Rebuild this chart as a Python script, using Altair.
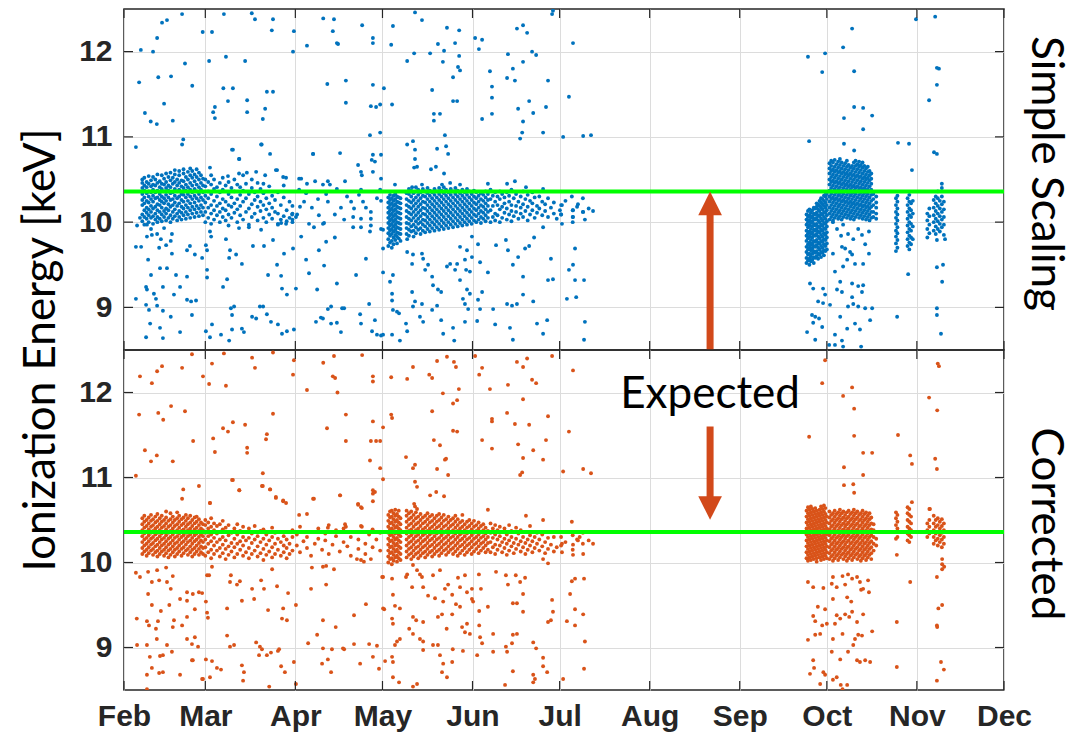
import altair as alt
import pandas as pd

# ---------------- axes / annotation values ----------------
MONTH_LABELS = ["Feb", "Mar", "Apr", "May", "Jun", "Jul", "Aug", "Sep", "Oct", "Nov", "Dec"]
MONTH_STARTS = [32, 60, 91, 121, 152, 182, 213, 244, 274, 305, 335]   # day of year (2017)
Y_TICKS = [9, 10, 11, 12]
X_DOMAIN = [32, 335]
Y_DOMAIN = [8.5, 12.5]
EXPECTED_KEV = 10.36
PANEL_TITLES = ["Simple Scaling", "Corrected"]
Y_TITLE = "Ionization Energy [keV]"
ARROW_DAY = 233.8
UP_ARROW = [8.5, 10.36]      # base, tip (top panel)
DOWN_ARROW = [11.6, 10.5]    # base, tip (bottom panel)
EXPECTED_TEXT = "Expected"
EXPECTED_TEXT_Y = 11.82

# ---------------- Simple Scaling (blue) ----------------
BLUE_DENSE = [
    (38.3, [10.01, 10.09, 10.2, 10.26, 10.33, 10.4, 10.46, 10.5]),
    (39.0, [9.97, 10.06, 10.14, 10.22, 10.29, 10.37, 10.43, 10.52]),
    (39.8, [10.04, 10.11, 10.17, 10.25, 10.34, 10.41, 10.47]),
    (40.5, [10.0, 10.08, 10.15, 10.23, 10.3, 10.36, 10.45, 10.54]),
    (41.3, [10.05, 10.12, 10.19, 10.27, 10.35, 10.42, 10.49]),
    (42.0, [9.98, 10.07, 10.16, 10.24, 10.31, 10.38, 10.44, 10.53]),
    (42.8, [10.03, 10.1, 10.18, 10.28, 10.35, 10.43, 10.5]),
    (43.5, [10.0, 10.06, 10.14, 10.21, 10.29, 10.37, 10.46, 10.56]),
    (44.3, [10.04, 10.12, 10.2, 10.26, 10.33, 10.41, 10.48]),
    (45.0, [10.01, 10.09, 10.17, 10.24, 10.3, 10.39, 10.45, 10.55]),
    (45.8, [10.06, 10.13, 10.22, 10.28, 10.36, 10.44, 10.51]),
    (46.5, [10.02, 10.1, 10.16, 10.25, 10.32, 10.4, 10.47, 10.57]),
    (47.3, [10.05, 10.14, 10.21, 10.29, 10.37, 10.43, 10.53]),
    (48.0, [10.0, 10.08, 10.18, 10.26, 10.34, 10.41, 10.49, 10.58]),
    (48.8, [10.04, 10.12, 10.2, 10.27, 10.35, 10.45, 10.52]),
    (49.5, [10.07, 10.15, 10.23, 10.31, 10.39, 10.47, 10.56, 10.61]),
    (50.3, [10.02, 10.1, 10.19, 10.28, 10.36, 10.43, 10.5]),
    (51.0, [10.06, 10.13, 10.22, 10.3, 10.38, 10.46, 10.55, 10.6]),
    (51.8, [10.03, 10.11, 10.18, 10.26, 10.33, 10.42, 10.49]),
    (52.5, [10.08, 10.16, 10.24, 10.32, 10.4, 10.48, 10.57, 10.62]),
    (53.3, [10.04, 10.12, 10.2, 10.29, 10.37, 10.44, 10.53]),
    (54.0, [10.09, 10.17, 10.25, 10.33, 10.41, 10.5, 10.59]),
    (54.8, [10.05, 10.14, 10.22, 10.3, 10.38, 10.46, 10.55, 10.63]),
    (55.5, [10.1, 10.18, 10.27, 10.35, 10.43, 10.52, 10.6]),
    (56.3, [10.06, 10.15, 10.23, 10.31, 10.39, 10.48, 10.56]),
    (57.0, [10.11, 10.19, 10.28, 10.36, 10.44, 10.53, 10.62]),
    (57.8, [10.07, 10.16, 10.25, 10.33, 10.41, 10.5, 10.58]),
    (58.5, [10.12, 10.2, 10.29, 10.38, 10.46, 10.55]),
    (59.2, [10.08, 10.17, 10.26, 10.35, 10.43, 10.51]),
    (60, [10.0, 10.12, 10.23, 10.31, 10.42, 10.5]),
    (61, [10.05, 10.17, 10.28, 10.36, 10.47]),
    (62, [9.98, 10.1, 10.2, 10.33, 10.44, 10.55]),
    (63, [10.03, 10.14, 10.25, 10.39, 10.5]),
    (64, [10.08, 10.19, 10.3, 10.41]),
    (65, [10.0, 10.12, 10.22, 10.35, 10.46]),
    (66, [10.06, 10.16, 10.27, 10.38, 10.52]),
    (67, [10.02, 10.14, 10.24, 10.43]),
    (68, [9.96, 10.09, 10.2, 10.33, 10.47]),
    (69, [10.05, 10.18, 10.29, 10.4]),
    (70, [10.11, 10.22, 10.36, 10.5]),
    (71, [10.0, 10.15, 10.27, 10.44]),
    (72, [10.08, 10.19, 10.32, 10.41]),
    (73, [10.03, 10.24, 10.37, 10.55]),
    (74, [10.12, 10.28, 10.45]),
    (75, [9.97, 10.16, 10.33]),
    (76, [10.06, 10.21, 10.4, 10.5]),
    (77, [10.1, 10.26, 10.35]),
    (78, [10.02, 10.18, 10.3, 10.46]),
    (79, [10.13, 10.24, 10.39]),
    (80, [10.05, 10.2, 10.34, 10.45]),
    (81, [10.0, 10.15, 10.28]),
    (82, [10.09, 10.22, 10.42]),
    (83, [10.04, 10.17, 10.31]),
    (84, [10.12, 10.26]),
    (85, [9.98, 10.1, 10.35]),
    (86, [10.03, 10.2]),
    (87, [10.07, 10.29, 10.43]),
    (88, [10.01, 10.14]),
    (89, [10.05, 10.24]),
    (90, [10.0, 10.03, 10.1, 10.19]),
    (123.0, [9.72, 9.8, 9.87, 9.93, 9.99, 10.05, 10.11, 10.17, 10.23, 10.29]),
    (123.6, [9.76, 9.84, 9.9, 9.96, 10.02, 10.08, 10.14, 10.2, 10.26, 10.32]),
    (124.2, [9.7, 9.78, 9.86, 9.92, 9.98, 10.04, 10.1, 10.16, 10.22, 10.28]),
    (124.8, [9.74, 9.82, 9.89, 9.95, 10.01, 10.07, 10.13, 10.19, 10.25, 10.31]),
    (125.4, [9.79, 9.85, 9.91, 9.97, 10.03, 10.09, 10.15, 10.21, 10.27, 10.33]),
    (126.0, [9.75, 9.83, 9.88, 9.94, 10.0, 10.06, 10.12, 10.18, 10.24, 10.3]),
    (126.6, [9.81, 9.87, 9.93, 9.99, 10.05, 10.11, 10.17, 10.23, 10.29]),
    (127.2, [9.78, 9.86, 9.92, 9.98, 10.04, 10.1, 10.16, 10.22, 10.28]),
    (129.3, [9.86, 9.93, 9.99, 10.06, 10.13, 10.2, 10.27, 10.34]),
    (130.1, [9.84, 9.91, 9.98, 10.04, 10.11, 10.18, 10.25, 10.33, 10.39]),
    (130.9, [9.89, 9.95, 10.02, 10.09, 10.16, 10.23, 10.3, 10.37]),
    (131.7, [9.83, 9.9, 9.97, 10.05, 10.12, 10.19, 10.26, 10.34]),
    (132.5, [9.87, 9.94, 10.01, 10.08, 10.15, 10.22, 10.29, 10.36, 10.41]),
    (133.3, [9.91, 9.98, 10.04, 10.11, 10.18, 10.25, 10.32, 10.38]),
    (134.1, [9.86, 9.93, 10.0, 10.07, 10.14, 10.21, 10.28, 10.35]),
    (134.9, [9.9, 9.97, 10.03, 10.1, 10.17, 10.24, 10.31, 10.39]),
    (135.7, [9.88, 9.95, 10.02, 10.09, 10.16, 10.23, 10.3, 10.36]),
    (136.5, [9.92, 9.99, 10.06, 10.13, 10.2, 10.27, 10.34, 10.4]),
    (137.3, [9.89, 9.96, 10.03, 10.1, 10.17, 10.24, 10.31, 10.37]),
    (138.1, [9.93, 10.0, 10.07, 10.14, 10.21, 10.28, 10.35]),
    (138.9, [9.9, 9.97, 10.04, 10.11, 10.18, 10.25, 10.32, 10.39]),
    (139.7, [9.94, 10.01, 10.08, 10.15, 10.22, 10.29, 10.36]),
    (140.5, [9.91, 9.98, 10.05, 10.12, 10.19, 10.26, 10.33, 10.4]),
    (141.3, [9.95, 10.02, 10.09, 10.16, 10.23, 10.3, 10.37]),
    (142.1, [9.92, 9.99, 10.06, 10.13, 10.2, 10.27, 10.34, 10.41]),
    (142.9, [9.96, 10.03, 10.1, 10.17, 10.24, 10.31, 10.38]),
    (143.7, [9.93, 10.0, 10.07, 10.14, 10.21, 10.28, 10.35]),
    (144.5, [9.97, 10.04, 10.11, 10.18, 10.25, 10.32, 10.39]),
    (145.3, [9.94, 10.01, 10.08, 10.15, 10.22, 10.29, 10.36]),
    (146.1, [9.98, 10.05, 10.12, 10.19, 10.26, 10.33, 10.4]),
    (146.9, [9.95, 10.02, 10.09, 10.16, 10.23, 10.3, 10.37]),
    (147.7, [9.99, 10.06, 10.13, 10.2, 10.27, 10.34]),
    (148.5, [9.96, 10.03, 10.1, 10.17, 10.24, 10.31, 10.38]),
    (149.3, [10.0, 10.07, 10.14, 10.21, 10.28, 10.35]),
    (150.1, [9.97, 10.04, 10.11, 10.18, 10.25, 10.32, 10.39]),
    (150.9, [10.01, 10.08, 10.15, 10.22, 10.29, 10.36]),
    (151.7, [9.98, 10.05, 10.12, 10.19, 10.26, 10.33]),
    (152.5, [10.02, 10.09, 10.16, 10.23, 10.3, 10.37]),
    (153.3, [10.0, 10.07, 10.14, 10.21, 10.28, 10.35]),
    (154.1, [10.03, 10.1, 10.17, 10.24, 10.31]),
    (154.9, [9.99, 10.06, 10.13, 10.2, 10.27, 10.34]),
    (155.7, [10.04, 10.11, 10.18, 10.25, 10.32]),
    (156.5, [10.01, 10.08, 10.15, 10.22, 10.29, 10.36]),
    (157.3, [10.05, 10.12, 10.19, 10.26, 10.33]),
    (158.2, [10.0, 10.14, 10.27, 10.38]), (159.0, [10.06, 10.19, 10.31]),
    (159.8, [10.02, 10.1, 10.24, 10.35]), (160.6, [10.08, 10.2, 10.3]),
    (161.4, [10.0, 10.15, 10.27, 10.36]), (162.2, [10.05, 10.18, 10.33]),
    (163.0, [10.11, 10.22, 10.29]), (163.8, [10.03, 10.16, 10.35]),
    (164.6, [10.09, 10.24, 10.31]), (165.4, [10.01, 10.13, 10.2, 10.38]),
    (166.2, [10.07, 10.28]), (167.0, [10.12, 10.19, 10.33]),
    (167.8, [10.04, 10.24]), (168.6, [10.1, 10.17, 10.3]),
    (169.4, [10.06, 10.21, 10.36]), (170.2, [10.13, 10.27]),
    (171.0, [10.02, 10.18, 10.32]), (171.8, [10.09, 10.25]),
    (172.6, [10.14, 10.22, 10.35]), (173.4, [10.05, 10.29]),
    (174.2, [10.11, 10.19]), (175.0, [10.16, 10.3]), (176.0, [10.08, 10.24]),
    (177.0, [10.13, 10.21]), (178.0, [10.06, 10.28]), (179.0, [10.17]),
    (180.0, [10.1, 10.23]), (181.0, [10.04]), (182.5, [10.09, 10.2]),
    (184.0, [10.25]), (186.5, [10.0, 10.06, 10.14]), (188.0, [10.18]),
    (190.0, [10.12, 10.28]), (192.0, [10.16]),
    (267.0, [9.52, 9.58, 9.65, 9.71, 9.78, 9.84, 9.9, 9.97, 10.03, 10.09]),
    (267.5, [9.55, 9.62, 9.68, 9.74, 9.81, 9.87, 9.94, 10.0, 10.06, 10.13]),
    (268.0, [9.5, 9.57, 9.63, 9.7, 9.76, 9.83, 9.89, 9.96, 10.02, 10.08, 10.15]),
    (268.5, [9.54, 9.6, 9.67, 9.73, 9.79, 9.86, 9.92, 9.99, 10.05, 10.11]),
    (269.0, [9.56, 9.63, 9.69, 9.75, 9.82, 9.88, 9.95, 10.01, 10.07, 10.14]),
    (269.5, [9.52, 9.59, 9.66, 9.72, 9.78, 9.85, 9.91, 9.98, 10.04, 10.1, 10.17]),
    (270.0, [9.58, 9.64, 9.71, 9.77, 9.84, 9.9, 9.96, 10.03, 10.09, 10.16]),
    (270.5, [9.6, 9.66, 9.73, 9.79, 9.86, 9.92, 9.98, 10.05, 10.11, 10.18, 10.22]),
    (271.0, [9.57, 9.63, 9.7, 9.76, 9.83, 9.89, 9.95, 10.02, 10.08, 10.15, 10.21]),
    (271.5, [9.62, 9.68, 9.75, 9.81, 9.88, 9.94, 10.0, 10.07, 10.13, 10.19, 10.25]),
    (272.0, [9.59, 9.65, 9.72, 9.78, 9.85, 9.91, 9.97, 10.04, 10.1, 10.17, 10.23, 10.28]),
    (272.5, [9.64, 9.7, 9.77, 9.83, 9.9, 9.96, 10.02, 10.09, 10.15, 10.21, 10.27]),
    (273.0, [9.61, 9.67, 9.74, 9.8, 9.87, 9.93, 9.99, 10.06, 10.12, 10.19, 10.25, 10.31]),
    (273.5, [9.66, 9.72, 9.79, 9.85, 9.92, 9.98, 10.04, 10.11, 10.17, 10.23, 10.3, 10.35]),
    (274.0, [9.68, 9.75, 9.82, 9.88, 9.95, 10.01, 10.08, 10.14, 10.2, 10.27, 10.33]),
    (274.9, [10.03, 10.1, 10.17, 10.24, 10.3, 10.37, 10.44, 10.5, 10.57, 10.63, 10.69]),
    (275.5, [10.06, 10.13, 10.2, 10.27, 10.33, 10.4, 10.47, 10.53, 10.6, 10.66, 10.72]),
    (276.1, [10.02, 10.09, 10.16, 10.23, 10.29, 10.36, 10.43, 10.49, 10.56, 10.62, 10.7]),
    (276.7, [10.05, 10.12, 10.19, 10.26, 10.32, 10.39, 10.46, 10.52, 10.59, 10.65, 10.73]),
    (277.3, [10.08, 10.15, 10.22, 10.28, 10.35, 10.42, 10.48, 10.55, 10.61, 10.68]),
    (277.9, [10.04, 10.11, 10.18, 10.25, 10.31, 10.38, 10.45, 10.51, 10.58, 10.64, 10.71]),
    (278.5, [10.07, 10.14, 10.21, 10.27, 10.34, 10.41, 10.47, 10.54, 10.6, 10.67, 10.74]),
    (279.1, [10.03, 10.1, 10.17, 10.24, 10.3, 10.37, 10.44, 10.5, 10.57, 10.63, 10.7]),
    (279.7, [10.06, 10.13, 10.2, 10.26, 10.33, 10.4, 10.46, 10.53, 10.59, 10.66]),
    (280.3, [10.09, 10.16, 10.23, 10.29, 10.36, 10.43, 10.49, 10.56, 10.62, 10.69]),
    (280.9, [10.05, 10.12, 10.19, 10.25, 10.32, 10.39, 10.45, 10.52, 10.58, 10.65, 10.72]),
    (281.5, [10.08, 10.15, 10.22, 10.28, 10.35, 10.42, 10.48, 10.55, 10.61, 10.67]),
    (282.1, [10.04, 10.11, 10.18, 10.24, 10.31, 10.38, 10.44, 10.51, 10.57, 10.64]),
    (282.7, [10.07, 10.14, 10.21, 10.27, 10.34, 10.41, 10.47, 10.54, 10.6, 10.66]),
    (283.3, [10.03, 10.1, 10.17, 10.23, 10.3, 10.37, 10.43, 10.5, 10.56, 10.63, 10.7]),
    (283.9, [10.06, 10.13, 10.2, 10.26, 10.33, 10.4, 10.46, 10.53, 10.59, 10.66, 10.72]),
    (284.5, [10.09, 10.16, 10.22, 10.29, 10.36, 10.42, 10.49, 10.55, 10.62, 10.68]),
    (285.1, [10.05, 10.12, 10.19, 10.25, 10.32, 10.39, 10.45, 10.52, 10.58, 10.65, 10.71]),
    (285.7, [10.08, 10.15, 10.21, 10.28, 10.35, 10.41, 10.48, 10.54, 10.61, 10.67]),
    (286.3, [10.04, 10.11, 10.18, 10.24, 10.31, 10.38, 10.44, 10.51, 10.57, 10.64, 10.7]),
    (286.9, [10.07, 10.14, 10.2, 10.27, 10.34, 10.4, 10.47, 10.53, 10.6, 10.66]),
    (287.5, [10.03, 10.1, 10.17, 10.23, 10.3, 10.37, 10.43, 10.5, 10.56, 10.63]),
    (288.1, [10.06, 10.13, 10.19, 10.26, 10.33, 10.39, 10.46, 10.52, 10.59, 10.65]),
    (288.7, [10.02, 10.09, 10.16, 10.22, 10.29, 10.36, 10.42, 10.49, 10.55, 10.6]),
    (289.3, [10.05, 10.12, 10.18, 10.25, 10.32, 10.38, 10.45, 10.51, 10.57]),
    (290.0, [10.06, 10.12, 10.2, 10.27, 10.33]),
    (291.0, [10.04, 10.1, 10.17, 10.23, 10.3]),
    (297.8, [9.66, 9.75, 9.83, 9.9, 9.98, 10.05, 10.12, 10.2, 10.28]),
    (298.3, [9.7, 9.79, 9.87, 9.94, 10.02, 10.09, 10.16, 10.24, 10.31]),
    (301.8, [9.72, 9.8, 9.88, 9.96, 10.04, 10.12, 10.2, 10.28]),
    (302.4, [9.68, 9.76, 9.84, 9.92, 10.0, 10.08, 10.16, 10.24, 10.32]),
    (303.0, [9.74, 9.82, 9.9, 9.98, 10.06, 10.14, 10.22]),
    (303.6, [9.8, 9.95, 10.1, 10.25]),
    (308.6, [9.82, 9.92, 10.02, 10.1]),
    (309.3, [9.87, 9.97, 10.07, 10.16]),
    (310.8, [9.9, 10.0, 10.08, 10.17, 10.26]),
    (311.5, [9.86, 9.95, 10.04, 10.13, 10.22, 10.3]),
    (312.2, [9.92, 10.01, 10.1, 10.19, 10.28, 10.36]),
    (312.9, [9.89, 9.98, 10.07, 10.16, 10.25]),
    (313.6, [9.94, 10.03, 10.12, 10.21, 10.3, 10.4, 10.45]),
    (314.3, [9.85, 9.97, 10.06, 10.15, 10.24]),
]

BLUE_SCATTER = [
    (52.0, 12.44), (46.8, 12.37), (45.1, 12.34), (37.8, 12.02), (42.0, 12.0), (43.4, 12.16), (53.0, 11.86),
    (37.2, 11.64), (43.8, 11.7), (48.2, 11.71), (55.5, 11.6), (39.2, 11.28), (45.8, 11.39), (41.2, 11.18),
    (43.3, 11.15), (48.8, 11.19), (36.1, 10.88), (52.4, 10.97), (52.0, 10.91), (59.1, 12.23), (62.3, 12.23),
    (66.4, 12.44), (76.0, 12.45), (77.1, 12.38), (83.3, 12.38), (82.9, 12.25), (61.3, 11.89), (67.1, 11.94),
    (73.7, 11.89), (66.2, 11.57), (69.5, 11.57), (67.8, 11.42), (63.3, 11.35), (62.7, 11.29), (63.3, 11.22),
    (74.4, 11.43), (74.4, 11.29), (81.2, 11.53), (83.3, 11.53), (80.6, 11.33), (79.8, 11.21), (69.5, 10.85),
    (71.7, 10.74), (79.4, 10.91), (82.3, 10.8), (61.6, 10.64), (84.7, 10.61), (90.5, 12.24), (90.2, 12.0),
    (95.0, 12.07), (100.6, 12.39), (104.3, 12.38), (103.9, 12.24), (105.3, 12.1), (105.7, 12.09), (114.0, 12.31),
    (117.7, 12.16), (117.7, 12.1), (124.0, 12.08), (124.6, 12.3), (102.0, 11.62), (108.4, 11.66), (117.7, 11.61),
    (121.5, 11.57), (108.4, 11.4), (117.0, 11.36), (118.8, 11.35), (120.2, 11.38), (124.3, 11.38), (116.7, 11.02),
    (120.2, 11.05), (106.4, 10.81), (97.1, 10.8), (112.6, 10.67), (113.9, 10.55), (117.7, 10.79), (117.3, 10.73),
    (93.0, 10.51),
    (132.2, 12.46), (134.6, 12.37), (143.2, 12.28), (147.4, 12.25), (131.9, 11.98), (137.4, 11.98), (140.1, 12.09),
    (142.2, 12.01), (146.0, 12.1), (147.4, 11.95), (129.5, 11.89), (141.8, 11.88), (147.0, 11.82), (147.7, 11.78),
    (145.3, 11.7), (138.1, 11.55), (145.3, 11.42), (146.7, 11.42), (138.7, 11.27), (140.8, 11.27), (138.7, 11.19),
    (142.5, 11.02), (129.5, 10.91), (131.5, 10.95), (132.2, 10.85), (132.2, 10.74), (139.8, 10.86), (142.9, 10.89),
    (143.6, 10.8), (131.9, 10.64), (132.9, 10.65), (137.7, 10.62), (139.4, 10.65), (142.2, 10.57), (152.9, 12.16),
    (155.3, 12.14), (154.2, 12.03), (158.0, 11.77), (158.7, 11.59), (158.7, 11.46), (158.7, 11.27), (155.3, 11.21),
    (163.9, 11.69), (164.2, 11.97), (165.9, 11.8), (166.6, 11.66), (167.3, 12.27), (169.4, 12.31), (170.8, 12.22),
    (169.4, 11.88), (172.5, 12.0), (173.9, 11.96), (171.5, 11.42), (172.9, 11.28), (167.7, 11.33), (169.4, 11.18),
    (169.1, 11.05), (168.4, 10.98), (176.3, 11.05), (177.3, 11.35), (178.0, 11.66), (179.4, 12.44), (179.7, 12.48),
    (186.6, 12.1), (185.2, 11.47), (183.2, 11.0), (190.1, 11.01), (192.8, 11.02),
    (125.3, 10.44), (131.2, 10.41), (134.6, 10.44), (141.5, 10.44), (144.3, 10.46), (147.7, 10.44), (157.3, 10.45),
    (163.9, 10.45), (166.6, 10.48), (170.4, 10.41), (176.3, 10.39),
    (267.5, 11.94), (273.4, 11.98), (272.4, 11.76), (282.7, 12.27), (279.6, 12.05), (283.4, 11.77), (283.4, 11.35),
    (286.5, 11.34), (279.9, 11.22), (289.6, 11.25), (286.5, 11.09), (267.9, 10.95), (279.9, 10.92), (283.4, 10.84),
    (298.5, 10.93), (302.3, 10.92), (303.3, 10.61), (304.7, 12.38), (311.3, 12.41), (311.9, 11.81), (312.6, 11.8),
    (311.9, 11.61), (309.2, 11.43), (310.9, 10.82), (311.9, 10.8),
    (36.5, 9.96), (37.5, 10.05), (39.9, 9.97), (41.3, 9.92), (45.8, 9.93), (36.1, 9.71), (37.9, 9.71), (39.9, 9.83),
    (41.6, 9.85), (43.4, 9.86), (44.7, 9.8), (46.5, 9.73), (48.1, 9.78), (44.1, 9.7), (48.5, 9.86), (48.5, 9.63),
    (40.3, 9.56), (44.4, 9.46), (46.8, 9.46), (41.3, 9.38), (49.9, 9.38), (36.1, 9.1), (39.6, 9.24), (39.9, 9.21),
    (42.3, 9.16), (43.0, 9.1), (45.4, 9.24), (49.2, 9.15), (51.3, 9.24), (53.7, 9.36), (53.7, 9.09), (55.1, 9.07),
    (56.8, 9.08), (39.6, 9.03), (40.6, 8.97), (43.4, 9.02), (45.4, 8.96), (48.1, 8.89), (55.4, 8.91), (41.0, 8.81),
    (44.4, 8.76), (45.4, 8.64), (39.6, 8.65), (51.3, 8.71), (60.2, 8.72), (62.3, 8.8), (61.6, 8.65), (65.4, 8.68),
    (68.2, 8.61), (69.2, 8.74), (72.6, 8.75), (73.3, 8.71), (76.1, 8.89), (77.5, 8.87), (79.9, 9.01), (78.8, 9.01),
    (81.2, 8.92), (82.6, 8.83), (85.0, 8.8), (86.4, 8.69), (88.1, 8.72), (60.6, 9.44), (60.6, 9.35), (58.9, 9.58),
    (56.4, 9.62), (53.7, 9.67), (54.7, 9.72), (60.2, 9.73), (60.6, 9.67), (62.0, 9.83), (61.6, 9.89), (67.1, 9.8),
    (68.5, 9.67), (68.2, 9.58), (70.6, 9.62), (66.1, 9.24), (67.5, 9.33), (68.8, 8.99), (69.9, 9.01), (69.2, 8.91),
    (72.6, 9.51), (71.6, 9.93), (75.0, 9.94), (76.4, 9.72), (80.2, 9.72), (79.2, 9.91), (81.6, 9.38), (83.3, 9.79),
    (84.7, 9.5), (86.1, 9.37), (86.4, 9.22), (87.1, 9.63), (88.1, 9.15), (86.1, 9.99), (85.0, 9.97), (87.8, 9.98),
    (90.2, 9.69), (91.2, 9.22), (90.5, 8.74), (93.0, 9.83), (94.7, 9.56), (95.7, 9.4), (97.4, 9.94), (99.1, 9.67),
    (100.9, 9.49), (100.5, 9.98), (101.6, 9.77), (98.5, 9.21), (100.5, 8.87), (102.2, 8.98), (103.3, 9.01),
    (103.3, 8.81), (104.6, 9.82), (105.3, 9.28), (107.8, 8.99), (110.9, 9.94), (111.9, 9.38), (113.6, 9.94),
    (116.7, 9.89), (115.3, 9.57), (116.4, 9.04), (117.0, 9.96), (120.5, 9.92), (113.3, 8.92), (113.6, 8.81),
    (117.4, 8.72), (118.4, 8.85), (119.1, 8.68), (120.5, 8.67), (98.1, 8.83), (99.8, 8.88), (105.3, 8.82),
    (106.7, 8.71), (107.1, 8.99),
    (69.2, 10.85), (71.6, 10.74), (67.8, 10.54), (71.6, 10.57), (74.3, 10.58), (77.5, 10.59), (79.2, 10.91),
    (80.6, 10.55), (84.3, 10.61), (86.8, 10.53), (87.8, 10.52), (92.3, 10.51), (95.0, 10.45), (97.8, 10.48),
    (97.1, 10.8), (100.5, 10.44), (102.2, 10.48), (108.1, 10.48), (113.6, 10.59), (118.4, 10.71), (117.7, 10.59),
    (120.5, 10.79), (120.5, 10.51), (92.3, 10.38), (94.7, 10.34), (92.6, 10.18), (94.0, 10.24), (96.7, 10.17),
    (98.8, 10.27), (99.1, 10.08), (101.6, 10.33), (102.2, 10.24), (102.9, 10.44), (105.3, 10.39), (106.7, 10.17),
    (104.6, 10.09), (108.8, 10.3), (110.2, 10.24), (111.2, 10.16), (110.9, 10.06), (112.9, 10.32), (113.6, 10.38),
    (114.3, 10.24), (115.3, 10.17), (117.0, 10.12), (119.1, 10.28), (120.5, 10.25), (120.2, 10.38), (117.0, 10.04),
    (113.6, 10.04), (107.8, 10.03), (100.9, 9.99), (95.7, 9.98), (91.2, 10.06), (89.9, 10.09), (91.6, 10.09),
    (121.2, 9.91), (121.2, 9.69), (121.2, 9.41), (123.6, 9.3), (124.6, 9.38), (124.3, 9.16), (124.3, 9.08),
    (124.6, 8.97), (126.0, 8.95), (126.7, 8.93), (124.3, 8.68), (121.2, 8.68), (127.0, 8.61), (129.5, 9.8),
    (129.5, 9.65), (131.5, 9.62), (131.2, 9.51), (134.6, 9.63), (135.0, 9.57), (136.7, 9.5), (135.7, 9.44),
    (138.1, 9.36), (138.4, 9.26), (140.1, 9.21), (141.2, 9.18), (143.2, 9.48), (144.3, 9.51), (146.7, 9.51),
    (147.7, 9.71), (149.4, 9.56), (150.1, 9.67), (146.0, 9.44), (147.7, 9.32), (149.8, 9.44), (151.1, 9.42),
    (151.8, 9.59), (150.1, 9.21), (151.1, 9.16), (148.7, 9.1), (149.4, 9.04), (150.5, 8.98), (131.2, 9.18),
    (132.2, 9.07), (131.5, 9.01), (134.6, 9.04), (133.9, 8.89), (135.0, 8.83), (129.1, 8.81), (129.5, 8.72),
    (138.1, 8.97), (139.8, 9.02), (141.2, 8.85), (141.9, 8.69), (145.3, 8.76), (145.7, 8.61), (149.4, 8.83),
    (153.6, 8.84), (154.6, 8.98), (153.9, 9.09), (155.3, 9.18), (154.6, 9.53), (157.3, 9.41), (151.8, 9.83),
    (153.9, 9.74), (160.1, 9.73), (164.2, 9.67), (163.5, 9.79), (165.9, 9.5), (167.7, 9.59), (169.4, 9.36),
    (170.1, 9.69), (171.5, 9.72), (173.2, 9.82), (169.4, 9.15), (167.3, 9.04), (165.6, 9.02), (163.9, 9.04),
    (159.1, 8.98), (159.8, 8.8), (164.9, 8.76), (165.9, 8.62), (172.9, 9.07), (174.2, 8.81), (176.3, 8.69),
    (177.7, 8.85), (178.0, 9.32), (179.7, 9.33), (179.0, 9.57), (176.3, 9.94), (182.5, 10.09), (182.8, 9.98),
    (186.2, 10.3), (186.6, 10.14), (186.6, 10.06), (187.3, 9.69), (186.6, 9.5), (185.2, 9.44), (187.3, 9.32),
    (187.7, 9.12), (184.5, 9.1), (190.4, 9.32), (190.7, 8.83), (190.4, 8.62), (188.3, 10.21), (190.1, 10.12),
    (190.7, 10.03), (193.5, 10.13), (182.8, 10.2), (182.1, 10.14),
    (276.1, 10.0), (277.5, 9.92), (278.9, 9.84), (279.6, 9.97), (281.3, 9.86), (283.1, 9.8), (284.8, 9.92),
    (286.1, 9.85), (287.2, 9.74), (288.5, 9.89), (276.1, 9.63), (279.2, 9.71), (280.3, 9.69), (282.0, 9.65),
    (282.7, 9.62), (283.7, 9.51), (281.0, 9.56), (286.5, 9.51), (288.5, 9.63), (276.8, 9.42), (279.6, 9.48),
    (278.6, 9.3), (277.5, 9.21), (279.2, 9.18), (282.7, 9.28), (284.8, 9.25), (286.5, 9.26), (286.1, 9.18),
    (282.7, 9.12), (283.1, 9.04), (281.3, 9.01), (284.8, 9.01), (287.2, 8.99), (289.6, 8.99), (275.1, 9.03),
    (278.6, 8.89), (283.7, 8.81), (285.4, 8.74), (288.9, 8.85), (276.8, 8.68), (281.0, 8.75), (279.2, 8.61),
    (279.6, 8.54), (285.8, 8.54), (276.8, 8.56), (268.2, 9.28), (269.3, 9.22), (272.7, 9.22), (273.4, 9.15),
    (271.0, 9.07), (272.7, 9.05), (268.9, 8.91), (270.0, 8.89), (271.3, 8.87), (272.4, 8.77), (269.3, 8.82),
    (267.2, 8.71), (270.0, 8.62), (274.8, 8.56), (298.2, 8.89), (302.0, 9.39), (311.9, 9.47), (314.0, 9.5),
    (313.7, 9.3), (311.9, 8.99), (311.9, 8.91), (313.3, 8.69), (311.9, 9.79), (314.7, 9.8),
]

# ---------------- Corrected (orange) ----------------
ORANGE_DENSE = [
    (38.3, [10.1, 10.17, 10.24, 10.31, 10.38, 10.45, 10.52]),
    (39.0, [10.13, 10.2, 10.27, 10.34, 10.41, 10.48, 10.55]),
    (39.8, [10.08, 10.15, 10.22, 10.29, 10.36, 10.43, 10.5]),
    (40.5, [10.11, 10.18, 10.25, 10.32, 10.39, 10.46, 10.53]),
    (41.3, [10.14, 10.21, 10.28, 10.35, 10.42, 10.49, 10.56]),
    (42.0, [10.09, 10.16, 10.23, 10.3, 10.37, 10.44, 10.51]),
    (42.8, [10.12, 10.19, 10.26, 10.33, 10.4, 10.47, 10.54]),
    (43.5, [10.07, 10.14, 10.21, 10.28, 10.35, 10.42, 10.49, 10.57]),
    (44.3, [10.1, 10.17, 10.24, 10.31, 10.38, 10.45, 10.52]),
    (45.0, [10.13, 10.2, 10.27, 10.34, 10.41, 10.48, 10.55]),
    (45.8, [10.08, 10.15, 10.22, 10.29, 10.36, 10.43, 10.5]),
    (46.5, [10.11, 10.18, 10.25, 10.32, 10.39, 10.46, 10.53, 10.6]),
    (47.3, [10.06, 10.14, 10.21, 10.28, 10.35, 10.42, 10.49]),
    (48.0, [10.09, 10.16, 10.23, 10.3, 10.37, 10.44, 10.51, 10.58]),
    (48.8, [10.12, 10.19, 10.26, 10.33, 10.4, 10.47, 10.54]),
    (49.5, [10.07, 10.15, 10.22, 10.29, 10.36, 10.43, 10.5]),
    (50.3, [10.1, 10.17, 10.24, 10.31, 10.38, 10.45, 10.52, 10.59]),
    (51.0, [10.13, 10.2, 10.27, 10.34, 10.41, 10.48, 10.55]),
    (51.8, [10.08, 10.16, 10.23, 10.3, 10.37, 10.44, 10.51]),
    (52.5, [10.11, 10.18, 10.25, 10.32, 10.39, 10.46, 10.53]),
    (53.3, [10.14, 10.21, 10.28, 10.35, 10.42, 10.49, 10.56]),
    (54.0, [10.09, 10.16, 10.24, 10.31, 10.38, 10.45, 10.52]),
    (54.8, [10.12, 10.19, 10.26, 10.33, 10.4, 10.47, 10.55]),
    (55.5, [10.07, 10.15, 10.22, 10.29, 10.36, 10.43, 10.5]),
    (56.3, [10.1, 10.17, 10.25, 10.32, 10.39, 10.46, 10.53]),
    (57.0, [10.13, 10.2, 10.27, 10.34, 10.41, 10.48, 10.54]),
    (57.8, [10.09, 10.16, 10.23, 10.3, 10.37, 10.44, 10.51]),
    (58.5, [10.12, 10.19, 10.26, 10.33, 10.4, 10.47]),
    (59.2, [10.1, 10.17, 10.24, 10.31, 10.38, 10.45]),
    (60, [10.08, 10.18, 10.27, 10.35, 10.44, 10.5]), (61, [10.12, 10.22, 10.31, 10.4, 10.47]),
    (62, [10.05, 10.15, 10.25, 10.33, 10.42, 10.52]), (63, [10.1, 10.2, 10.29, 10.38, 10.46]),
    (64, [10.14, 10.24, 10.34, 10.43]), (65, [10.07, 10.17, 10.27, 10.36, 10.45]),
    (66, [10.11, 10.21, 10.3, 10.39, 10.49]), (67, [10.04, 10.16, 10.26, 10.41]),
    (68, [10.09, 10.19, 10.32, 10.44]), (69, [10.13, 10.23, 10.35]), (70, [10.06, 10.18, 10.28, 10.4]),
    (71, [10.1, 10.22, 10.33, 10.45]), (72, [10.15, 10.25, 10.37]), (73, [10.08, 10.2, 10.3, 10.42]),
    (74, [10.12, 10.26, 10.36]), (75, [10.05, 10.17, 10.29, 10.4]), (76, [10.1, 10.23, 10.34]),
    (77, [10.14, 10.27, 10.43]), (78, [10.07, 10.19, 10.31]), (79, [10.11, 10.24, 10.37]),
    (80, [10.03, 10.16, 10.28, 10.39]), (81, [10.09, 10.21, 10.33]), (82, [10.13, 10.26]),
    (83, [10.06, 10.18, 10.3, 10.41]), (84, [10.1, 10.22, 10.35]), (85, [10.15, 10.28]), (86, [10.08, 10.24]),
    (87, [10.12, 10.2, 10.31]), (88, [10.05, 10.17, 10.27]), (89, [10.1, 10.22]), (90, [10.14, 10.3, 10.38]),
    (91.5, [10.2, 10.33]), (92.6, [10.12, 10.42]), (93.8, [10.25]), (95.0, [10.3, 10.17]), (96.4, [10.08, 10.36]),
    (97.7, [10.22]), (98.9, [10.28, 10.4]), (100.2, [10.15]), (101.3, [10.26, 10.34]), (102.5, [10.1, 10.44]),
    (103.8, [10.21]), (105.0, [10.31, 10.38]), (106.3, [10.13]), (107.6, [10.24, 10.4]), (108.9, [10.19]),
    (110.1, [10.3, 10.08]), (111.4, [10.36]), (112.7, [10.16, 10.27]), (113.9, [10.42]), (115.1, [10.22, 10.1]),
    (116.4, [10.33]), (117.6, [10.18, 10.39]), (118.9, [10.27]), (120.2, [10.14, 10.35]),
    (123.0, [10.0, 10.07, 10.14, 10.21, 10.28, 10.35, 10.42, 10.49, 10.56]),
    (123.6, [10.04, 10.11, 10.18, 10.25, 10.32, 10.39, 10.46, 10.53, 10.6]),
    (124.2, [9.98, 10.05, 10.12, 10.19, 10.26, 10.33, 10.4, 10.47, 10.54, 10.61]),
    (124.8, [10.02, 10.09, 10.16, 10.23, 10.3, 10.37, 10.44, 10.51, 10.58]),
    (125.4, [10.06, 10.13, 10.2, 10.27, 10.34, 10.41, 10.48, 10.55, 10.62]),
    (126.0, [10.01, 10.08, 10.15, 10.22, 10.29, 10.36, 10.43, 10.5, 10.57]),
    (126.6, [10.05, 10.12, 10.19, 10.26, 10.33, 10.4, 10.47, 10.54, 10.61]),
    (127.2, [10.03, 10.1, 10.17, 10.24, 10.31, 10.38, 10.45, 10.52]),
    (129.3, [10.06, 10.13, 10.2, 10.27, 10.34, 10.41, 10.48, 10.55, 10.61]),
    (130.1, [10.09, 10.16, 10.23, 10.3, 10.37, 10.44, 10.51, 10.58]),
    (130.9, [10.04, 10.11, 10.18, 10.25, 10.32, 10.39, 10.46, 10.53, 10.6]),
    (131.7, [10.07, 10.14, 10.21, 10.28, 10.35, 10.42, 10.49, 10.56]),
    (132.5, [10.1, 10.17, 10.24, 10.31, 10.38, 10.45, 10.52, 10.59]),
    (133.3, [10.05, 10.12, 10.19, 10.26, 10.33, 10.4, 10.47, 10.54]),
    (134.1, [10.08, 10.15, 10.22, 10.29, 10.36, 10.43, 10.5, 10.57]),
    (134.9, [10.11, 10.18, 10.25, 10.32, 10.39, 10.46, 10.53]),
    (135.7, [10.06, 10.13, 10.2, 10.27, 10.34, 10.41, 10.48, 10.55]),
    (136.5, [10.09, 10.16, 10.23, 10.3, 10.37, 10.44, 10.51, 10.58]),
    (137.3, [10.12, 10.19, 10.26, 10.33, 10.4, 10.47, 10.54]),
    (138.1, [10.07, 10.14, 10.21, 10.28, 10.35, 10.42, 10.49, 10.56]),
    (138.9, [10.1, 10.17, 10.24, 10.31, 10.38, 10.45, 10.52]),
    (139.7, [10.13, 10.2, 10.27, 10.34, 10.41, 10.48, 10.55]),
    (140.5, [10.08, 10.15, 10.22, 10.29, 10.36, 10.43, 10.5, 10.57]),
    (141.3, [10.11, 10.18, 10.25, 10.32, 10.39, 10.46, 10.53]),
    (142.1, [10.14, 10.21, 10.28, 10.35, 10.42, 10.49, 10.56]),
    (142.9, [10.09, 10.16, 10.23, 10.3, 10.37, 10.44, 10.51]),
    (143.7, [10.12, 10.19, 10.26, 10.33, 10.4, 10.47, 10.54]),
    (144.5, [10.15, 10.22, 10.29, 10.36, 10.43, 10.5]),
    (145.3, [10.1, 10.17, 10.24, 10.31, 10.38, 10.45, 10.52]),
    (146.1, [10.13, 10.2, 10.27, 10.34, 10.41, 10.48, 10.55]),
    (146.9, [10.08, 10.16, 10.23, 10.3, 10.37, 10.44, 10.51]),
    (147.7, [10.11, 10.19, 10.26, 10.33, 10.4, 10.47]),
    (148.5, [10.14, 10.21, 10.28, 10.35, 10.42, 10.49, 10.56]),
    (149.3, [10.09, 10.17, 10.24, 10.31, 10.38, 10.45]),
    (150.1, [10.12, 10.2, 10.27, 10.34, 10.41, 10.48]),
    (150.9, [10.15, 10.22, 10.29, 10.36, 10.43, 10.5]),
    (151.7, [10.1, 10.18, 10.25, 10.32, 10.39, 10.46]),
    (152.5, [10.13, 10.21, 10.28, 10.35, 10.42, 10.49]),
    (153.3, [10.16, 10.23, 10.3, 10.37, 10.44]),
    (154.1, [10.11, 10.19, 10.26, 10.33, 10.4, 10.47]),
    (154.9, [10.14, 10.22, 10.29, 10.36, 10.43]),
    (155.7, [10.17, 10.24, 10.31, 10.38, 10.45]),
    (156.5, [10.12, 10.2, 10.27, 10.34, 10.41]),
    (157.3, [10.15, 10.23, 10.3, 10.37]),
    (158.2, [10.12, 10.24, 10.35, 10.46]), (159.0, [10.18, 10.29, 10.4]), (159.8, [10.1, 10.21, 10.33, 10.44]),
    (160.6, [10.15, 10.27, 10.38]), (161.4, [10.2, 10.31, 10.42]), (162.2, [10.12, 10.24, 10.36]),
    (163.0, [10.17, 10.28, 10.4]), (163.8, [10.09, 10.22, 10.33]), (164.6, [10.14, 10.26, 10.44]),
    (165.4, [10.19, 10.3, 10.37]), (166.2, [10.11, 10.23]), (167.0, [10.16, 10.28, 10.41]),
    (167.8, [10.21, 10.34]), (168.6, [10.13, 10.25, 10.38]), (169.4, [10.18, 10.3]),
    (170.2, [10.1, 10.23, 10.36]), (171.0, [10.15, 10.27]), (171.8, [10.2, 10.32, 10.43]),
    (172.6, [10.12, 10.25]), (173.4, [10.17, 10.3]), (174.2, [10.22, 10.35]), (175.0, [10.14, 10.27]),
    (176.0, [10.19, 10.33]), (177.0, [10.11, 10.24]), (178.0, [10.16, 10.29]), (179.0, [10.21]),
    (180.0, [10.13, 10.3]), (181.0, [10.18]), (182.5, [10.2, 10.3]), (184.0, [10.24]),
    (186.5, [10.15, 10.32]), (188.0, [10.27]), (190.0, [10.22, 10.35]), (192.0, [10.26]),
    (267.0, [10.05, 10.12, 10.19, 10.26, 10.33, 10.4, 10.47, 10.54, 10.61]),
    (267.5, [10.02, 10.09, 10.16, 10.23, 10.3, 10.37, 10.44, 10.51, 10.58, 10.65]),
    (268.0, [10.06, 10.13, 10.2, 10.27, 10.34, 10.41, 10.48, 10.55, 10.62]),
    (268.5, [10.03, 10.1, 10.17, 10.24, 10.31, 10.38, 10.45, 10.52, 10.59, 10.66]),
    (269.0, [10.07, 10.14, 10.21, 10.28, 10.35, 10.42, 10.49, 10.56, 10.63]),
    (269.5, [10.04, 10.11, 10.18, 10.25, 10.32, 10.39, 10.46, 10.53, 10.6]),
    (270.0, [10.08, 10.15, 10.22, 10.29, 10.36, 10.43, 10.5, 10.57, 10.64]),
    (270.5, [10.01, 10.05, 10.12, 10.19, 10.26, 10.33, 10.4, 10.47, 10.54, 10.61]),
    (271.0, [10.09, 10.16, 10.23, 10.3, 10.37, 10.44, 10.51, 10.58]),
    (271.5, [10.06, 10.13, 10.2, 10.27, 10.34, 10.41, 10.48, 10.55, 10.62]),
    (272.0, [10.03, 10.1, 10.17, 10.24, 10.31, 10.38, 10.45, 10.52, 10.59, 10.66]),
    (272.5, [10.07, 10.14, 10.21, 10.28, 10.35, 10.42, 10.49, 10.56, 10.63]),
    (273.0, [10.04, 10.11, 10.18, 10.25, 10.32, 10.39, 10.46, 10.53, 10.6, 10.67]),
    (273.5, [10.08, 10.15, 10.22, 10.29, 10.36, 10.43, 10.5, 10.57, 10.64]),
    (274.0, [10.05, 10.12, 10.19, 10.26, 10.33, 10.4, 10.47, 10.54]),
    (274.9, [10.04, 10.11, 10.18, 10.25, 10.32, 10.39, 10.46, 10.53, 10.6]),
    (275.5, [10.07, 10.14, 10.21, 10.28, 10.35, 10.42, 10.49, 10.56]),
    (276.1, [10.02, 10.09, 10.16, 10.23, 10.3, 10.37, 10.44, 10.51, 10.58]),
    (276.7, [10.05, 10.12, 10.19, 10.26, 10.33, 10.4, 10.47, 10.54, 10.61]),
    (277.3, [10.08, 10.15, 10.22, 10.29, 10.36, 10.43, 10.5, 10.57]),
    (277.9, [10.03, 10.1, 10.17, 10.24, 10.31, 10.38, 10.45, 10.52, 10.59]),
    (278.5, [10.06, 10.13, 10.2, 10.27, 10.34, 10.41, 10.48, 10.55, 10.62]),
    (279.1, [10.09, 10.16, 10.23, 10.3, 10.37, 10.44, 10.51, 10.58]),
    (279.7, [10.04, 10.11, 10.18, 10.25, 10.32, 10.39, 10.46, 10.53, 10.6]),
    (280.3, [10.07, 10.14, 10.21, 10.28, 10.35, 10.42, 10.49, 10.56]),
    (280.9, [10.02, 10.1, 10.17, 10.24, 10.31, 10.38, 10.45, 10.52, 10.59]),
    (281.5, [10.05, 10.12, 10.19, 10.26, 10.33, 10.4, 10.47, 10.54, 10.61]),
    (282.1, [10.08, 10.15, 10.22, 10.29, 10.36, 10.43, 10.5, 10.57]),
    (282.7, [10.03, 10.1, 10.17, 10.24, 10.31, 10.38, 10.45, 10.52, 10.59]),
    (283.3, [10.06, 10.13, 10.2, 10.27, 10.34, 10.41, 10.48, 10.55, 10.62]),
    (283.9, [10.09, 10.16, 10.23, 10.3, 10.37, 10.44, 10.51, 10.58]),
    (284.5, [10.04, 10.11, 10.18, 10.25, 10.32, 10.39, 10.46, 10.53, 10.6]),
    (285.1, [10.07, 10.14, 10.21, 10.28, 10.35, 10.42, 10.49, 10.56]),
    (285.7, [10.02, 10.09, 10.16, 10.23, 10.3, 10.37, 10.44, 10.51, 10.58]),
    (286.3, [10.05, 10.12, 10.19, 10.26, 10.33, 10.4, 10.47, 10.54, 10.61]),
    (286.9, [10.08, 10.15, 10.22, 10.29, 10.36, 10.43, 10.5, 10.57]),
    (287.5, [10.03, 10.1, 10.17, 10.24, 10.31, 10.38, 10.45, 10.52, 10.59]),
    (288.1, [10.06, 10.13, 10.2, 10.27, 10.34, 10.41, 10.48, 10.55]),
    (288.7, [10.09, 10.16, 10.23, 10.3, 10.37, 10.44, 10.51, 10.58]),
    (289.3, [10.04, 10.11, 10.18, 10.25, 10.32, 10.39, 10.46, 10.53]),
    (290.1, [10.14, 10.22, 10.3, 10.38, 10.45]),
    (291.0, [10.2, 10.28, 10.36]),
    (297.8, [10.28, 10.36, 10.44, 10.52, 10.59]), (298.3, [10.3, 10.4, 10.48, 10.56]),
    (301.8, [10.26, 10.34, 10.42, 10.5, 10.58, 10.65]), (302.4, [10.24, 10.32, 10.4, 10.48, 10.56, 10.63]),
    (303.0, [10.3, 10.38, 10.46, 10.54]),
    (308.6, [10.3, 10.38, 10.46]), (309.3, [10.34, 10.42, 10.5, 10.63]), (310.8, [10.22, 10.3, 10.38, 10.46, 10.55]),
    (311.5, [10.26, 10.34, 10.42, 10.5]), (312.2, [10.2, 10.28, 10.36, 10.44, 10.52]),
    (312.9, [10.24, 10.32, 10.4, 10.48]), (313.6, [10.18, 10.27, 10.35, 10.43, 10.51]),
    (314.3, [10.22, 10.3, 10.38, 10.46]),
]

ORANGE_SCATTER = [
    (55.4, 12.45), (37.5, 12.19), (41.6, 12.11), (43.4, 12.25), (45.1, 12.31), (52.0, 12.29), (59.2, 12.19),
    (61.3, 12.1), (62.3, 12.34), (66.4, 12.46), (67.1, 12.08), (76.1, 12.41), (77.1, 12.29), (83.3, 12.47),
    (37.2, 11.74), (43.8, 11.76), (45.5, 11.68), (48.2, 11.84), (53.0, 11.78), (39.2, 11.32), (43.3, 11.26),
    (41.3, 11.19), (48.8, 11.19), (55.8, 11.43), (36.1, 11.02), (52.4, 10.86), (52.0, 10.75), (57.8, 10.9),
    (62.7, 11.46), (63.3, 11.3), (66.1, 11.58), (67.8, 11.54), (69.5, 11.65), (73.7, 11.62), (74.4, 11.35),
    (74.4, 11.29), (80.9, 11.45), (81.2, 11.51), (83.3, 11.75), (79.8, 11.05), (79.8, 10.9), (82.3, 10.86),
    (69.5, 10.97), (71.7, 10.85), (84.3, 10.77), (86.8, 10.72), (61.6, 10.7), (90.5, 12.38), (90.2, 12.21),
    (95.0, 12.03), (100.6, 12.35), (104.3, 12.43), (103.9, 12.19), (104.7, 12.17), (105.5, 12.0), (114.0, 12.44),
    (117.7, 12.19), (117.7, 12.13), (108.4, 11.74), (101.9, 11.58), (108.4, 11.43), (117.7, 11.66), (116.7, 11.2),
    (117.0, 11.43), (118.8, 11.43), (120.2, 11.43), (120.2, 11.11), (117.7, 10.85), (117.7, 10.81), (106.4, 10.79),
    (112.6, 10.68), (113.9, 10.64), (97.1, 10.75), (124.0, 11.74), (121.2, 11.59),
    (131.5, 12.3), (124.0, 12.18), (129.5, 12.16), (137.1, 12.21), (138.1, 12.17), (139.8, 12.37), (143.2, 12.42),
    (145.6, 12.36), (146.3, 12.3), (141.8, 11.99), (147.3, 12.04), (146.7, 11.91), (145.3, 11.87), (138.1, 11.78),
    (124.3, 11.7), (145.3, 11.55), (146.7, 11.54), (138.7, 11.44), (140.8, 11.38), (129.1, 11.24), (131.5, 11.11),
    (132.2, 11.15), (139.8, 11.1), (142.5, 11.21), (142.9, 11.22), (143.6, 11.03), (132.2, 10.95), (132.9, 10.89),
    (137.4, 10.79), (139.5, 10.83), (142.2, 10.78), (131.9, 10.69), (152.9, 12.43), (155.3, 12.29), (154.3, 12.21),
    (158.0, 12.04), (158.7, 11.69), (158.7, 11.66), (155.3, 11.44), (158.7, 11.34), (164.2, 12.09), (163.9, 11.76),
    (166.6, 11.63), (167.3, 12.36), (169.4, 12.3), (170.8, 12.4), (169.4, 11.92), (172.5, 12.15), (173.9, 12.11),
    (171.5, 11.62), (172.9, 11.32), (167.7, 11.39), (169.4, 11.23), (169.1, 11.06), (168.4, 11.03), (176.3, 11.21),
    (177.3, 11.44), (178.0, 11.72), (179.4, 12.43), (186.6, 12.26), (185.2, 11.54), (183.2, 11.07), (190.1, 11.1),
    (192.8, 11.05), (121.2, 10.98), (132.2, 10.66), (132.9, 10.63), (157.3, 10.62), (170.4, 10.55), (176.3, 10.5),
    (186.2, 10.48),
    (61.6, 10.7), (69.2, 10.97), (71.7, 10.85), (79.5, 10.9), (82.3, 10.86), (84.3, 10.76), (86.8, 10.73),
    (87.8, 10.7), (97.4, 10.75), (106.4, 10.79), (112.6, 10.69), (113.6, 10.65), (117.7, 10.72), (118.4, 10.83),
    (92.3, 10.56), (95.0, 10.57), (102.2, 10.41), (108.1, 10.45), (108.4, 10.42), (113.6, 10.43),
    (286.5, 11.29), (289.6, 11.29), (279.9, 11.12), (286.5, 11.03), (279.9, 10.91), (283.1, 10.92), (283.4, 10.82),
    (302.7, 11.26), (303.3, 11.16), (303.3, 10.71), (311.3, 11.22), (311.9, 11.1), (309.5, 10.63), (273.4, 12.38),
    (272.4, 12.11), (279.6, 11.96), (282.7, 12.06), (283.4, 11.81), (283.4, 11.49), (267.9, 11.48), (298.5, 11.5),
    (312.2, 12.34), (312.6, 12.31), (309.2, 11.94), (312.0, 11.79),
    (36.1, 9.88), (37.5, 9.83), (40.3, 9.89), (41.6, 9.77), (43.4, 9.91), (46.5, 9.94), (48.8, 9.84), (46.8, 9.77),
    (44.1, 9.79), (48.1, 9.69), (40.3, 9.63), (41.6, 9.5), (47.6, 9.5), (51.3, 9.57), (53.7, 9.65), (55.7, 9.63),
    (57.8, 9.65), (53.7, 9.55), (56.4, 9.45), (36.4, 9.34), (39.9, 9.31), (40.6, 9.26), (43.7, 9.31), (44.7, 9.43),
    (49.2, 9.32), (48.8, 9.24), (52.0, 9.26), (53.7, 9.36), (43.0, 9.22), (43.3, 9.1), (46.8, 9.03), (53.7, 9.1),
    (55.4, 9.04), (57.5, 9.01), (56.4, 9.12), (36.5, 9.03), (39.9, 9.03), (40.9, 8.89), (44.4, 8.9), (45.4, 8.91),
    (48.5, 8.95), (55.7, 8.85), (41.6, 8.76), (39.9, 8.68), (44.1, 8.7), (45.4, 8.71), (51.3, 8.68), (39.9, 8.51),
    (59.2, 8.63),
    (60.6, 9.85), (61.3, 9.85), (58.9, 9.64), (60.2, 9.54), (60.6, 9.41), (62.3, 9.95), (60.9, 9.35), (67.5, 9.46),
    (68.5, 9.77), (70.9, 9.74), (71.9, 9.78), (72.6, 9.55), (68.8, 9.85), (76.8, 9.57), (76.1, 9.69), (79.2, 9.79),
    (80.2, 9.69), (84.7, 9.72), (86.8, 9.46), (88.1, 9.32), (86.4, 9.34), (88.5, 9.64), (91.2, 9.5), (81.6, 9.44),
    (83.0, 9.92), (69.9, 9.03), (68.5, 9.01), (67.5, 9.14), (72.6, 8.79), (73.3, 8.71), (77.5, 9.06), (78.8, 9.01),
    (79.5, 8.98), (78.5, 8.91), (81.2, 8.91), (82.6, 8.94), (85.0, 8.96), (85.4, 8.98), (86.1, 8.78), (87.4, 8.71),
    (90.5, 8.83), (91.2, 8.57), (82.0, 8.54), (73.0, 8.61), (65.4, 8.74), (64.0, 8.76), (62.3, 8.84), (61.6, 8.65),
    (58.9, 8.63), (60.2, 8.86), (55.4, 8.85), (95.4, 9.05), (98.5, 9.15), (100.5, 8.99), (102.2, 8.86),
    (103.3, 8.71), (100.2, 8.81), (103.6, 8.98), (107.4, 8.99), (107.8, 8.98), (111.2, 9.04), (113.3, 8.81),
    (116.4, 9.04), (117.7, 8.89), (119.1, 9.02), (119.8, 8.75), (111.2, 9.38), (115.3, 9.51), (104.9, 9.24),
    (100.5, 9.32), (101.6, 9.74), (96.4, 9.69), (96.7, 9.94), (100.5, 9.95), (104.3, 9.92), (101.6, 9.96),
    (112.2, 10.04), (113.6, 10.03), (117.0, 10.04), (120.9, 9.83), (121.6, 9.45), (114.6, 10.01),
    (121.2, 9.83), (121.2, 9.46), (124.3, 9.81), (124.6, 9.62), (125.3, 9.49), (127.0, 9.46), (124.3, 9.34),
    (124.6, 9.28), (126.0, 9.07), (125.3, 9.03), (127.0, 9.1), (124.3, 8.89), (124.6, 8.83), (124.6, 8.65),
    (121.9, 8.84), (126.7, 8.59), (129.5, 9.86), (129.1, 9.83), (131.5, 9.97), (132.9, 9.91), (131.2, 9.71),
    (133.9, 9.86), (134.6, 9.83), (135.0, 9.71), (138.4, 9.85), (140.8, 9.91), (142.5, 9.69), (143.6, 9.74),
    (145.0, 9.62), (147.0, 9.82), (147.7, 9.71), (149.4, 9.85), (150.1, 9.65), (151.8, 9.69), (151.8, 9.57),
    (136.7, 9.61), (139.1, 9.58), (141.9, 9.54), (146.3, 9.51), (147.7, 9.48), (131.5, 9.36), (132.6, 9.32),
    (135.0, 9.3), (140.1, 9.36), (141.5, 9.39), (145.0, 9.39), (148.4, 9.24), (150.1, 9.28), (151.1, 9.16),
    (149.4, 9.18), (130.2, 9.22), (131.5, 9.16), (133.9, 9.1), (135.0, 9.07), (138.4, 9.03), (135.0, 8.97),
    (140.1, 9.03), (143.1, 9.22), (145.2, 8.98), (148.7, 8.96), (140.8, 8.91), (141.9, 8.81), (145.0, 8.83),
    (141.5, 8.71), (143.2, 8.65), (132.9, 8.57), (131.5, 8.54), (154.2, 9.86), (154.9, 9.69), (152.2, 9.54),
    (154.3, 9.43), (157.3, 9.48), (154.3, 9.26), (154.6, 9.12), (155.3, 9.05), (153.6, 8.91), (159.1, 9.16),
    (159.1, 8.95), (160.1, 9.89), (163.5, 9.85), (164.2, 9.74), (166.9, 9.85), (168.4, 9.77), (169.4, 9.63),
    (170.1, 9.82), (165.9, 9.52), (167.3, 9.52), (169.4, 9.42), (167.3, 9.16), (165.9, 9.15), (165.6, 9.05),
    (163.5, 9.01), (163.9, 8.95), (165.9, 8.72), (163.2, 8.56), (172.9, 9.06), (173.9, 8.99), (176.3, 8.88),
    (176.3, 8.78), (177.7, 8.71), (172.9, 8.68), (172.9, 8.59), (178.0, 9.3), (179.0, 9.32), (179.4, 9.56),
    (179.7, 9.42), (178.0, 9.99), (176.3, 10.04), (182.8, 10.12), (182.8, 10.22), (186.6, 10.21), (186.6, 10.09),
    (186.2, 9.78), (187.3, 9.81), (185.6, 9.63), (187.3, 9.45), (187.3, 9.26), (184.5, 9.31), (190.4, 9.81),
    (190.1, 9.39), (190.7, 9.07), (190.4, 8.75), (183.2, 8.63), (188.9, 10.3), (190.1, 10.1), (193.5, 10.22),
    (188.3, 10.26), (173.5, 8.63),
    (267.5, 9.77), (269.3, 9.71), (272.8, 9.7), (269.3, 9.37), (270.9, 9.48), (273.4, 9.45), (270.0, 9.31),
    (272.4, 9.26), (271.7, 9.16), (267.5, 9.09), (270.0, 9.15), (274.0, 9.28), (269.3, 8.85), (269.6, 8.76),
    (268.2, 8.69), (272.8, 8.71), (273.4, 8.68), (271.7, 8.57), (276.1, 9.83), (275.7, 9.75), (277.4, 9.71),
    (279.4, 9.84), (280.3, 9.74), (281.3, 9.86), (282.7, 9.81), (284.4, 9.83), (285.4, 9.77), (286.5, 9.69),
    (288.2, 9.79), (288.5, 9.65), (285.8, 9.68), (276.1, 9.57), (281.0, 9.59), (282.4, 9.54), (277.4, 9.38),
    (278.6, 9.34), (280.3, 9.39), (282.7, 9.42), (281.7, 9.36), (286.5, 9.39), (284.4, 9.3), (276.8, 9.28),
    (276.1, 9.1), (279.4, 9.16), (283.1, 9.03), (283.7, 9.1), (284.8, 9.15), (286.1, 9.14), (289.6, 9.19),
    (281.3, 8.95), (275.7, 8.95), (278.6, 8.86), (284.4, 8.85), (285.4, 8.83), (287.2, 8.85), (288.9, 8.83),
    (276.1, 8.62), (277.4, 8.65), (279.4, 8.51), (278.8, 8.56), (281.0, 8.56),
    (298.1, 10.09), (302.7, 9.77), (298.1, 9.3), (298.1, 8.77), (311.9, 9.83), (313.7, 9.98), (313.7, 9.92),
    (312.4, 9.46), (313.7, 9.5), (311.9, 9.26), (312.0, 9.24), (313.3, 8.83), (314.3, 8.74), (311.9, 8.61),
    (313.7, 10.04), (314.4, 9.95),
]

# ---------------- build tables ----------------
def to_frame(dense, scatter):
    rows = [{"day": d, "e": e} for d, es in dense for e in es]
    rows += [{"day": d, "e": e} for d, e in scatter]
    return pd.DataFrame(rows)

blue_df = to_frame(BLUE_DENSE, BLUE_SCATTER)
orange_df = to_frame(ORANGE_DENSE, ORANGE_SCATTER)

# ---------------- styling ----------------
W = 880
H_TOP = 341
H_BOT = 340
BLUE = "#0072BD"
ORANGE = "#D95319"
ARROW_COLOR = "#D2491A"
GREEN = "#00FF00"
INK = "#262626"
GRID = "#dcdcdc"
TICK_FONT = "Liberation Sans"
TEXT_FONT = "Lato"

label_expr = "[{}][indexof([{}], datum.value)]".format(
    ",".join("'{}'".format(m) for m in MONTH_LABELS), ",".join(str(v) for v in MONTH_STARTS)
)

x_scale = alt.Scale(domain=X_DOMAIN, nice=False, zero=False)
y_scale = alt.Scale(domain=Y_DOMAIN, nice=False, zero=False)

y_axis = alt.Axis(values=Y_TICKS, format="d", title=None, ticks=False, tickSize=0, domain=False, grid=True,
                  gridColor=GRID, gridWidth=1, labelFont=TICK_FONT, labelFontWeight="bold",
                  labelFontSize=30, labelColor=INK, labelPadding=12, labelFlush=False, labelOverlap=False)


def x_axis(show_labels):
    return alt.Axis(values=MONTH_STARTS, title=None, ticks=False, tickSize=0, domain=False, grid=True,
                    gridColor=GRID, gridWidth=1, labels=show_labels, labelExpr=label_expr,
                    labelFont=TICK_FONT, labelFontWeight="bold", labelFontSize=30, labelColor=INK,
                    labelPadding=11, labelFlush=False, labelOverlap=False, labelBound=False)


def panel(df, color, height, show_labels, title, title_shift):
    base = alt.Chart(df)
    pts = base.mark_circle(size=15, opacity=1, color=color, clip=True).encode(
        x=alt.X("day:Q", scale=x_scale, axis=x_axis(show_labels)),
        y=alt.Y("e:Q", scale=y_scale, axis=y_axis),
    )
    expected = alt.Chart(pd.DataFrame({"v": [EXPECTED_KEV]})).mark_rule(color=GREEN, strokeWidth=4).encode(
        y=alt.Y("v:Q", scale=y_scale)
    )
    yt = pd.DataFrame({"v": Y_TICKS})
    xt = pd.DataFrame({"v": MONTH_STARTS})
    tick_l = alt.Chart(yt).mark_rule(color=INK, strokeWidth=1.2).encode(
        y=alt.Y("v:Q", scale=y_scale), x=alt.value(0), x2=alt.value(9))
    tick_r = alt.Chart(yt).mark_rule(color=INK, strokeWidth=1.2).encode(
        y=alt.Y("v:Q", scale=y_scale), x=alt.value(W - 9), x2=alt.value(W))
    tick_t = alt.Chart(xt).mark_rule(color=INK, strokeWidth=1.2).encode(
        x=alt.X("v:Q", scale=x_scale), y=alt.value(0), y2=alt.value(9))
    tick_b = alt.Chart(xt).mark_rule(color=INK, strokeWidth=1.2).encode(
        x=alt.X("v:Q", scale=x_scale), y=alt.value(height - 9), y2=alt.value(height))
    side = alt.Chart(pd.DataFrame({"t": [title]})).mark_text(
        angle=90, font=TEXT_FONT, fontSize=44, color="black", align="center", baseline="alphabetic"
    ).encode(text="t:N", x=alt.value(W + 28), y=alt.value(height / 2 + title_shift))
    return [pts, expected, tick_l, tick_r, tick_t, tick_b, side]


top_layers = panel(blue_df, BLUE, H_TOP, False, PANEL_TITLES[0], -6)
up_shaft = alt.Chart(pd.DataFrame({"d": [ARROW_DAY], "a": [UP_ARROW[0]], "b": [UP_ARROW[1]]})).mark_rule(
    color=ARROW_COLOR, strokeWidth=7, y2Offset=18).encode(
    x=alt.X("d:Q", scale=x_scale), y=alt.Y("a:Q", scale=y_scale), y2="b:Q")
up_head = alt.Chart(pd.DataFrame({"d": [ARROW_DAY], "b": [UP_ARROW[1]]})).mark_point(
    shape="M-1,1L1,1L0,-1Z", size=560, filled=True, opacity=1, color=ARROW_COLOR, yOffset=12).encode(
    x=alt.X("d:Q", scale=x_scale), y=alt.Y("b:Q", scale=y_scale))
ytitle = alt.Chart(pd.DataFrame({"t": [Y_TITLE]})).mark_text(
    angle=270, font=TEXT_FONT, fontSize=44, color="black", align="center", baseline="alphabetic"
).encode(text="t:N", x=alt.value(-69), y=alt.value(H_TOP))

top = alt.layer(*top_layers, up_shaft, up_head, ytitle).properties(width=W, height=H_TOP)

bot_layers = panel(orange_df, ORANGE, H_BOT, True, PANEL_TITLES[1], 4)
down_shaft = alt.Chart(pd.DataFrame({"d": [ARROW_DAY], "a": [DOWN_ARROW[0]], "b": [DOWN_ARROW[1]]})).mark_rule(
    color=ARROW_COLOR, strokeWidth=7, y2Offset=-18).encode(
    x=alt.X("d:Q", scale=x_scale), y=alt.Y("a:Q", scale=y_scale), y2="b:Q")
down_head = alt.Chart(pd.DataFrame({"d": [ARROW_DAY], "b": [DOWN_ARROW[1]]})).mark_point(
    shape="M-1,-1L1,-1L0,1Z", size=560, filled=True, opacity=1, color=ARROW_COLOR, yOffset=-12).encode(
    x=alt.X("d:Q", scale=x_scale), y=alt.Y("b:Q", scale=y_scale))
exp_text = alt.Chart(pd.DataFrame({"t": [EXPECTED_TEXT], "d": [ARROW_DAY], "y": [EXPECTED_TEXT_Y]})).mark_text(
    font=TEXT_FONT, fontSize=44, color="black", align="center", baseline="alphabetic").encode(
    text="t:N", x=alt.X("d:Q", scale=x_scale), y=alt.Y("y:Q", scale=y_scale))

bottom = alt.layer(*bot_layers, down_shaft, down_head, exp_text).properties(width=W, height=H_BOT)

chart = alt.vconcat(top, bottom, spacing=0, bounds="flush").properties(
    padding={"left": 19, "top": 7, "right": 7, "bottom": 1}, background="white"
).configure_view(stroke=INK, strokeWidth=1.5)

chart.save("out.html", embed_options={"renderer": "svg", "actions": False})
